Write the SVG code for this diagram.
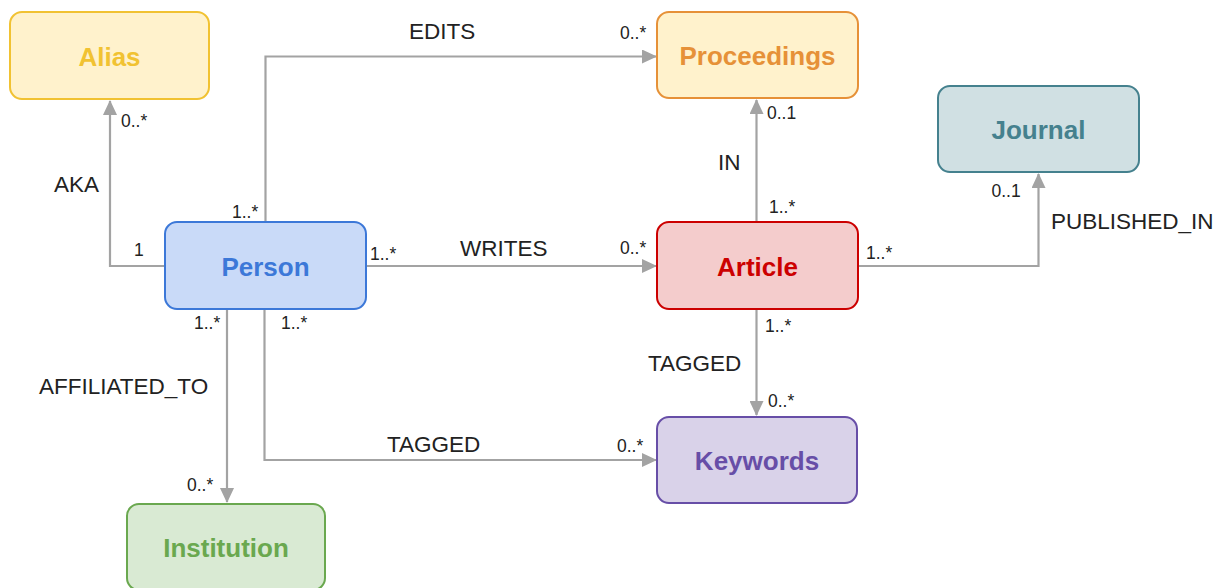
<svg xmlns="http://www.w3.org/2000/svg" width="1217" height="588" viewBox="0 0 1217 588">
<style>
.node rect{stroke-width:2}
.title{font-family:"Liberation Sans",Arial,sans-serif;font-weight:bold;font-size:26px;text-anchor:middle}
.lbl{font-family:"Liberation Sans",Arial,sans-serif;font-size:22.5px;fill:#222}
.m{font-family:"Liberation Sans",Arial,sans-serif;font-size:17.5px;fill:#222}
.conn path{fill:none;stroke:#a3a3a3;stroke-width:2.2;marker-end:url(#arr)}
</style>
<defs>
<marker id="arr" viewBox="0 0 15 14" refX="14" refY="7" markerWidth="15" markerHeight="14" markerUnits="userSpaceOnUse" orient="auto">
<path d="M0,0 L15,7 L0,14 Z" fill="#a3a3a3"/>
</marker>
</defs>
<rect width="1217" height="588" fill="#fff"/>
<g id="connectors" class="conn">
<path d="M165,266 H110 V101"/>
<path d="M265.5,222 V56.5 H656"/>
<path d="M366,266 H656"/>
<path d="M756.5,222 V100"/>
<path d="M858,266 H1038.5 V174"/>
<path d="M756.5,309 V415"/>
<path d="M264.5,309 V460 H656"/>
<path d="M227,309 V502"/>
</g>
<g id="labels">
<text class="lbl" x="54" y="192">AKA</text>
<text class="m" x="121" y="127">0..*</text>
<text class="m" x="134" y="256">1</text>
<text class="lbl" x="409" y="39">EDITS</text>
<text class="m" x="232" y="218">1..*</text>
<text class="m" x="620" y="39">0..*</text>
<text class="lbl" x="460" y="255.5">WRITES</text>
<text class="m" x="370" y="260">1..*</text>
<text class="m" x="620" y="254">0..*</text>
<text class="lbl" x="718" y="170">IN</text>
<text class="m" x="769" y="212.5">1..*</text>
<text class="m" x="767" y="118.5">0..1</text>
<text class="lbl" x="1051" y="229">PUBLISHED_IN</text>
<text class="m" x="866" y="259">1..*</text>
<text class="m" x="991.5" y="196.5">0..1</text>
<text class="lbl" x="648" y="370.5">TAGGED</text>
<text class="m" x="765" y="332">1..*</text>
<text class="m" x="768" y="407">0..*</text>
<text class="lbl" x="387" y="451.5">TAGGED</text>
<text class="m" x="281" y="329">1..*</text>
<text class="m" x="617" y="451.5">0..*</text>
<text class="lbl" x="39" y="394">AFFILIATED_TO</text>
<text class="m" x="194" y="329">1..*</text>
<text class="m" x="187" y="490.5">0..*</text>
</g>
<g id="alias" class="node">
<rect x="10" y="12" width="199" height="87" rx="12" fill="#fff2cc" stroke="#f1c232"/>
<text class="title" x="109.5" y="65.5" fill="#f1c232">Alias</text>
</g>
<g id="proceedings" class="node">
<rect x="657" y="12" width="201" height="86" rx="12" fill="#fff2cc" stroke="#e69138"/>
<text class="title" x="757.5" y="65" fill="#e69138">Proceedings</text>
</g>
<g id="journal" class="node">
<rect x="938" y="86" width="201" height="86" rx="12" fill="#d0e0e3" stroke="#45818e"/>
<text class="title" x="1038.5" y="139" fill="#45818e">Journal</text>
</g>
<g id="person" class="node">
<rect x="165" y="222" width="201" height="87" rx="12" fill="#c9daf8" stroke="#3c78d8"/>
<text class="title" x="265.5" y="275.5" fill="#3c78d8">Person</text>
</g>
<g id="article" class="node">
<rect x="657" y="222" width="201" height="87" rx="12" fill="#f4cccc" stroke="#cc0000"/>
<text class="title" x="757.5" y="275.5" fill="#cc0000">Article</text>
</g>
<g id="keywords" class="node">
<rect x="657" y="417" width="200" height="86" rx="12" fill="#d9d2e9" stroke="#674ea7"/>
<text class="title" x="757" y="470" fill="#674ea7">Keywords</text>
</g>
<g id="institution" class="node">
<rect x="127" y="504" width="198" height="86" rx="12" fill="#d9ead3" stroke="#6aa84f"/>
<text class="title" x="226" y="557" fill="#6aa84f">Institution</text>
</g>
</svg>
